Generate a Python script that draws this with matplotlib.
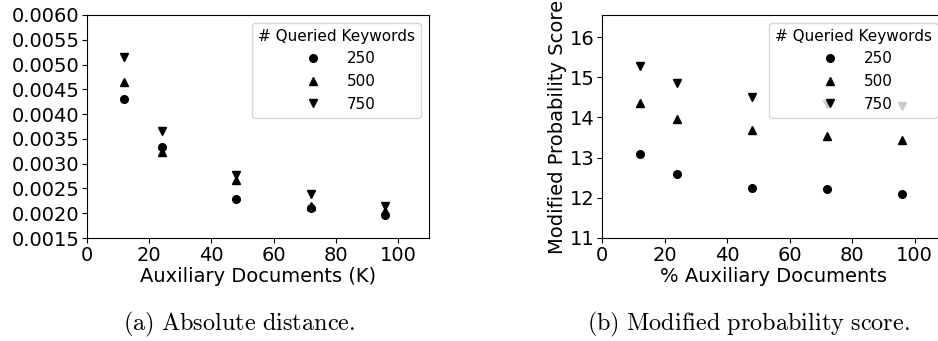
import matplotlib
matplotlib.use('Agg')
import matplotlib.pyplot as plt

# valores
x_docs = [12, 24, 48, 72, 96]
keywords = ['250', '500', '750']
markers = ['o', '^', 'v']

abs_dist = {
    '250': [0.00430, 0.00333, 0.00229, 0.00210, 0.00196],
    '500': [0.00465, 0.00323, 0.00268, 0.00215, 0.00205],
    '750': [0.00516, 0.00365, 0.00278, 0.00238, 0.00215],
}
prob_score = {
    '250': [13.09, 12.59, 12.24, 12.22, 12.10],
    '500': [14.37, 13.96, 13.68, 13.55, 13.44],
    '750': [15.27, 14.86, 14.50, 14.33, 14.29],
}

W, H = 938, 341
fig = plt.figure(figsize=(W / 100, H / 100), dpi=100)

ax1 = fig.add_axes([87 / W, (H - 238) / H, (429 - 87) / W, 223 / H])
ax2 = fig.add_axes([602 / W, (H - 238) / H, 344 / W, 223 / H])

for k, m in zip(keywords, markers):
    ax1.plot(x_docs, abs_dist[k], m, color='black', ms=5.5, ls='none', label=k)
    ax2.plot(x_docs, prob_score[k], m, color='black', ms=5.5, ls='none', label=k)

ax1.set_xlim(0, 110)
ax1.set_ylim(0.0015, 0.0060)
ax1.set_yticks([0.0015 + 0.0005 * i for i in range(10)])
ax1.set_yticklabels([f'{0.0015 + 0.0005 * i:.4f}' for i in range(10)])
ax1.set_xticks([0, 20, 40, 60, 80, 100])
ax1.set_xlabel('Auxiliary Documents (K)', fontsize=14, labelpad=2)

ax2.set_xlim(0, 110)
ax2.set_ylim(11, 16.55)
ax2.set_yticks([11, 12, 13, 14, 15, 16])
ax2.set_xticks([0, 20, 40, 60, 80, 100])
ax2.set_xlabel('% Auxiliary Documents', fontsize=14, labelpad=2)
ax2.set_ylabel('Modified Probability Score', fontsize=14, labelpad=2)

for ax in (ax1, ax2):
    ax.tick_params(labelsize=14, pad=2)
    ax.legend(title='# Queried Keywords', loc='upper right', fontsize=11,
              title_fontsize=11, handletextpad=1.2)

fig.text(239 / W, 1 - 324 / H, r'$\mathrm{(a)\ Absolute\ distance.}$',
         math_fontfamily='cm', fontsize=17.5, ha='center', va='center')
fig.text(748 / W, 1 - 324 / H, r'$\mathrm{(b)\ Modified\ probability\ score.}$',
         math_fontfamily='cm', fontsize=17.5, ha='center', va='center')

plt.savefig('out.png', dpi=100)
plt.close()
